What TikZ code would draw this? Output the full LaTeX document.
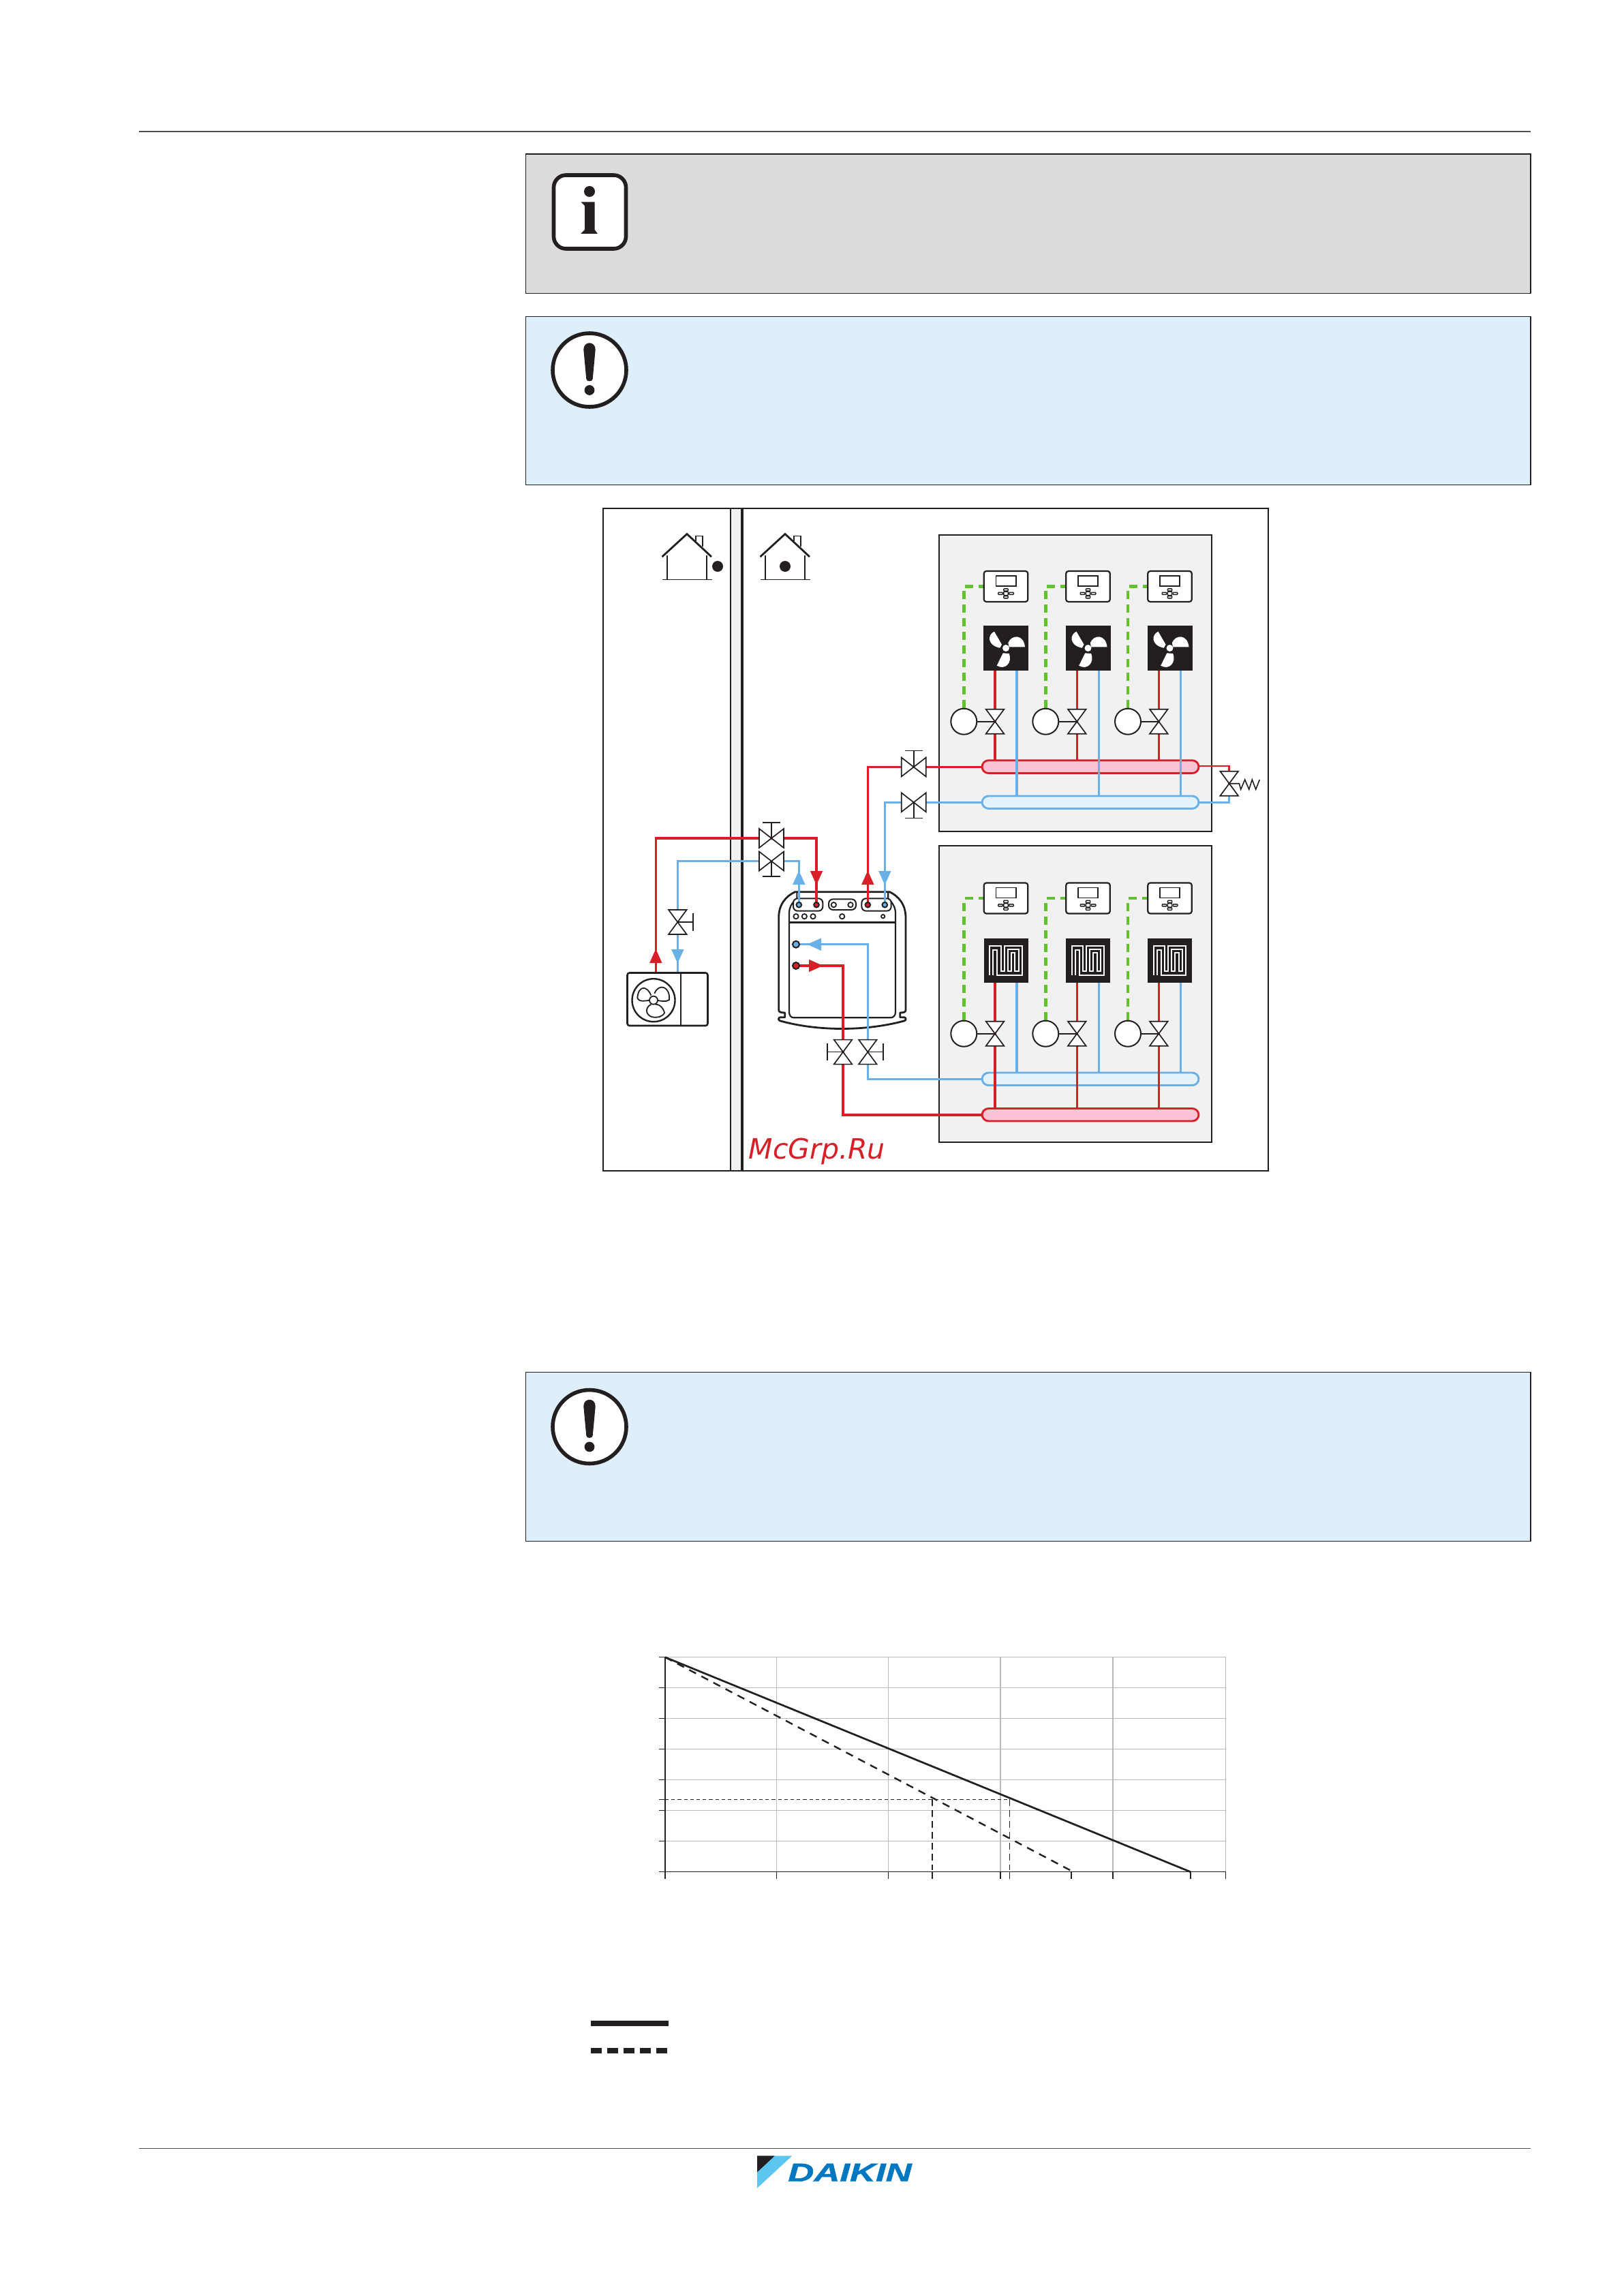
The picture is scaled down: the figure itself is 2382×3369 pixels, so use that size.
\documentclass[tikz,border=0pt]{standalone}
\usepackage{fontspec}
\setmainfont{DejaVu Sans}
\newfontfamily\logofont[FakeBold=1.2]{Liberation Sans Bold Italic}
\newfontfamily\stampfont{DejaVu Sans Oblique}
\definecolor{ink}{HTML}{231F20}
\definecolor{pred}{HTML}{D71F27}
\definecolor{pblue}{HTML}{68B0E6}
\definecolor{pgreen}{HTML}{62C130}
\definecolor{ppink}{HTML}{FBC3D4}
\definecolor{ppale}{HTML}{E4F2FC}
\definecolor{zonegrey}{HTML}{F1F1F1}
\definecolor{infogrey}{HTML}{DCDCDC}
\definecolor{noteblue}{HTML}{DEEEFA}
\definecolor{gridgrey}{HTML}{B9B9B9}
\definecolor{rulegrey}{HTML}{4D4D4D}
\definecolor{logoblue}{HTML}{0078C1}
\definecolor{logosky}{HTML}{5CC5F0}
\tikzset{
  redthick/.style={draw=pred,line width=.88pt},
  redthin/.style={draw=pred,line width=.7pt},
  bluethick/.style={draw=pblue,line width=.85pt},
  bluethin/.style={draw=pblue,line width=.7pt},
  signal/.style={draw=pgreen,line width=1.1pt,dash pattern=on 3pt off 2pt},
  zonebox/.style={draw=ink,fill=zonegrey,line width=.65pt},
  notebox/.style={draw=ink,line width=.4pt},
  symbol/.style={draw=ink,fill=white,line width=.42pt,line join=miter},
  thinline/.style={draw=ink,line width=.42pt},
  gridline/.style={draw=gridgrey,line width=.38pt},
  axisline/.style={draw=ink,line width=.38pt},
  vbow/.pic={
    \path[symbol] (-13.3,-18) -- (13.3,-18) -- (0,0) -- cycle;
    \path[symbol] (-13.3,18) -- (13.3,18) -- (0,0) -- cycle;
  },
  hbow/.pic={
    \path[symbol] (-18,-14) -- (-18,14) -- (0,0) -- cycle;
    \path[symbol] (18,-14) -- (18,14) -- (0,0) -- cycle;
  },
  ctrlunit/.pic={
    \path[draw=ink,fill=white,line width=.55pt,rounded corners=.9pt] (-32.3,-22.5) rectangle (32.3,22.5);
    \path[draw=ink,fill=white,line width=.4pt] (-14.7,-15.7) rectangle (14.7,-.7);
    \foreach \bx/\by/\bw/\bh in {-8/10.3/3.3/1.5,8/10.3/3.3/1.5,0/5/3.2/1.6,0/15.7/3.2/1.6,0/10.3/3.2/2.7}
      \path[draw=ink,fill=white,line width=.35pt,rounded corners=.2pt] (\bx-\bw,\by-\bh) rectangle (\bx+\bw,\by+\bh);
  },
  fanface/.pic={
    \fill[ink] (-33,-33) rectangle (33,33);
    \fill[white] (0,0) circle[radius=5];
    \fill[white] (-17,-24.3) .. controls (-27,-20) and (-28,-4) .. (-8.7,-.3) -- (-6,-5.3) -- cycle;
    \fill[white] (3.3,-7.7) .. controls (8,-20) and (26,-21) .. (28,-1.7) -- (4.7,-1.7) -- cycle;
    \fill[white] (4.7,8) .. controls (10,21) and (-1,33) .. (-13.3,25.7) -- (-4.3,7.3) -- cycle;
  },
  heatface/.pic={
    \fill[ink] (-32.5,-32.5) rectangle (32.5,32.5);
    \draw[white,line width=.5pt,line join=miter] (-18.8,21.2) -- (-18.8,-15.5) -- (-12.8,-15.5) -- (-12.8,21.2) -- (23.8,21.2) -- (23.8,-21.2) -- (-2.2,-21.2) -- (-2.2,15.2) -- (-7.5,15.2) -- (-7.5,-21.2) -- (-23.8,-21.2) -- (-23.8,21.2);
    \draw[white,line width=.5pt,line join=miter] (2.5,-16.2) -- (18.5,-16.2) -- (18.5,15.2) -- (13.2,15.2) -- (13.2,-11.2) -- (7.8,-11.2) -- (7.8,15.2) -- (2.5,15.2) -- cycle;
  },
  houseicon/.pic={
    \draw[ink,line width=.7pt,line join=miter] (-36.5,33.5) -- (0,0) -- (36,33.5);
    \draw[ink,line width=.45pt] (-36.5,67) -- (36.5,67);
    \draw[ink,line width=.55pt] (-29,31) -- (-29,67) (29,31) -- (29,67);
    \draw[ink,line width=.4pt] (12.7,10) -- (12.7,3) -- (23,3) -- (23,18);
  },
  exclaim/.pic={
    \path[draw=ink,fill=white,line width=1.4pt] (0,0) circle[radius=54];
    \fill[ink] (-8.7,-30) .. controls (-8.7,-43) and (8.7,-43) .. (8.7,-30) -- (4.7,13) .. controls (4.7,17.5) and (-4.7,17.5) .. (-4.7,13) -- cycle;
    \fill[ink] (0,29.5) circle[radius=7.4];
  },
}
\newcommand{\flowtip}[3]{\fill[#3,shift={#1},rotate=#2] (10.5,0) -- (-10,9.2) -- (-10,-9.2) -- cycle;}
\begin{document}
\begin{tikzpicture}[x=.25pt,y=-.25pt]
\path[use as bounding box] (0,0) rectangle (2382,3369);

% page rules
\coordinate (headL) at (204,193);
\coordinate (headR) at (2246,193);
\coordinate (footL) at (204,3152.5);
\coordinate (footR) at (2246,3152.5);
\draw[rulegrey,line width=.58pt] (headL) -- (headR);
\draw[rulegrey,line width=.45pt] (footL) -- (footR);

% note boxes
\path[notebox,fill=infogrey] (771.5,226) rectangle (2246,430.5);
\path[notebox,fill=noteblue] (771.5,464.5) rectangle (2246,711.5);
\path[notebox,fill=noteblue] (771.5,2013.5) rectangle (2246,2261.5);

% info icon
\path[draw=ink,fill=white,line width=1.4pt,rounded corners=4.5pt] (812.5,257) rectangle (918.5,365);
\fill[ink] (865,281) circle[radius=8];
\fill[ink] (852.5,296.5) -- (872.5,296.5) -- (872.5,337) -- (877,343) -- (852,343) -- (858,337) -- (858,302) -- cycle;
\pic at (865,543) {exclaim};
\pic at (865,2093.5) {exclaim};

% diagram frame and wall
\path[fill=zonegrey] (1072,746) rectangle (1089,1718);
\path[draw=ink,line width=.5pt] (885,746) rectangle (1861,1718);
\draw[ink,line width=.7pt] (1072,746) -- (1072,1718);
\draw[ink,line width=1.1pt] (1089,746) -- (1089,1718);

% houses
\pic at (1008,783.5) {houseicon};
\pic at (1152,783.5) {houseicon};
\fill[ink] (1053,831) circle[radius=8];
\fill[ink] (1152,831) circle[radius=8];

% zones
\path[zonebox] (1378,785) rectangle (1778,1220);
\path[zonebox] (1378,1241) rectangle (1778,1676);

% named points of the zones
\foreach \n/\cx in {1/1476,2/1596.5,3/1716.5}{
  \coordinate (ctA\n) at (\cx,860.5);
  \coordinate (faA\n) at (\cx,951);
  \coordinate (ctB\n) at (\cx,1318);
  \coordinate (faB\n) at (\cx,1409.5);
}
\foreach \n/\vx/\bx/\mx in {1/1460/1492/1414.3,2/1580.3/1612.3/1534.3,3/1700.3/1732.3/1655}{
  \coordinate (vaA\n) at (\vx,1058.7);
  \coordinate (moA\n) at (\mx,1058.7);
  \coordinate (vaB\n) at (\vx,1516.7);
  \coordinate (moB\n) at (\mx,1516.7);
  \coordinate (raA\n) at (\vx,984);
  \coordinate (blA\n) at (\bx,984);
  \coordinate (hrA\n) at (\vx,1116);
  \coordinate (hbA\n) at (\bx,1168);
  \coordinate (cbA\n) at (\mx,860.5);
  \coordinate (raB\n) at (\vx,1442);
  \coordinate (blB\n) at (\bx,1442);
  \coordinate (hbB\n) at (\bx,1574);
  \coordinate (hrB\n) at (\vx,1626.5);
  \coordinate (cbB\n) at (\mx,1318);
}

% signal wires
\foreach \z in {A,B}{
  \foreach \n in {1,2,3}{
    \draw[signal] (mo\z\n) -- (cb\z\n) -- (ct\z\n);
  }
}

% manifolds
\path[draw=pred,fill=ppink,line width=.72pt,rounded corners=2.4pt] (1441,1115.7) rectangle (1759,1134.6);
\path[draw=pblue,fill=ppale,line width=.72pt,rounded corners=2.4pt] (1441,1168) rectangle (1759,1186.5);
\path[draw=pblue,fill=ppale,line width=.72pt,rounded corners=2.4pt] (1441,1574) rectangle (1759,1592.5);
\path[draw=pred,fill=ppink,line width=.72pt,rounded corners=2.4pt] (1441,1626.5) rectangle (1759,1645);

% zone pipes
\draw[redthick] (raA1) -- (vaA1) -- (hrA1);
\draw[redthin] (raA2) -- (vaA2) -- (hrA2);
\draw[redthin] (raA3) -- (vaA3) -- (hrA3);
\draw[bluethick] (blA1) -- (hbA1);
\draw[bluethin] (blA2) -- (hbA2);
\draw[bluethin] (blA3) -- (hbA3);
\draw[bluethick] (blB1) -- (hbB1);
\draw[bluethin] (blB2) -- (hbB2);
\draw[bluethin] (blB3) -- (hbB3);
\draw[redthick] (raB1) -- (vaB1) -- (hrB1);
\draw[redthin] (raB2) -- (vaB2) -- (hrB2);
\draw[redthin] (raB3) -- (vaB3) -- (hrB3);

% terminals, controllers, valves, motors
\foreach \z/\face in {A/fanface,B/heatface}{
  \foreach \n in {1,2,3}{
    \pic at (fa\z\n) {\face};
    \pic at (ct\z\n) {ctrlunit};
    \draw[ink,line width=.4pt] (mo\z\n) -- (va\z\n);
    \path[symbol,line width=.5pt] (mo\z\n) circle[radius=19];
    \pic at (va\z\n) {vbow};
  }
}

% named points of the main circuit
\coordinate (odR) at (962.3,1427.5);
\coordinate (odB) at (994.3,1427.5);
\coordinate (crnR) at (962.3,1230);
\coordinate (crnB) at (994.3,1263.6);
\coordinate (vOutR) at (1132,1230);
\coordinate (vOutB) at (1132,1263.6);
\coordinate (vOd) at (994.3,1353);
\coordinate (pR1) at (1198,1327.7);
\coordinate (pB1) at (1172.3,1327.7);
\coordinate (pR2) at (1273.3,1327.7);
\coordinate (pB2) at (1298.3,1327.7);
\coordinate (crnR1) at (1198,1230);
\coordinate (crnB1) at (1172.3,1263.6);
\coordinate (vZoneR) at (1340.7,1125.5);
\coordinate (vZoneB) at (1340.7,1177.3);
\coordinate (crnR2) at (1273.3,1125.5);
\coordinate (crnB2) at (1298.3,1177.3);
\coordinate (mfR) at (1441,1125.5);
\coordinate (mfB) at (1441,1177.3);
\coordinate (pLoR) at (1168,1417);
\coordinate (pLoB) at (1168,1385.7);
\coordinate (crnLoR) at (1237,1417);
\coordinate (crnLoB) at (1273.3,1385.7);
\coordinate (vLoR) at (1237,1543.6);
\coordinate (vLoB) at (1273.3,1543.6);
\coordinate (crnFloorR) at (1237,1636);
\coordinate (crnFloorB) at (1273.3,1583.3);
\coordinate (mfFloorR) at (1441,1636);
\coordinate (mfFloorB) at (1441,1583.3);
\coordinate (mfEndR) at (1759,1124);
\coordinate (mfEndB) at (1759,1177.3);
\coordinate (crnByR) at (1803.7,1124);
\coordinate (crnByB) at (1803.7,1177.3);
\coordinate (vBy) at (1803.7,1149.7);

% indoor unit
\begin{scope}[shift={(1130,1290)},x=.08333pt,y=-.08333pt]
  \path[draw=ink,fill=white,line width=.7pt,line join=round]
    (38,575) -- (38,170) .. controls (38,110) and (70,75) .. (110,56) -- (526,56)
    .. controls (565,75) and (597,110) .. (597,170) -- (597,575)
    .. controls (597,585) and (590,588) .. (572,588) -- (572,608) -- (590,608)
    .. controls (600,610) and (600,622) .. (590,624)
    .. controls (420,670) and (210,670) .. (45,624)
    .. controls (35,622) and (35,610) .. (45,608) -- (65,608) -- (65,588)
    .. controls (45,588) and (38,585) .. (38,575) -- cycle;
  \draw[ink,line width=.55pt,line join=round]
    (118,56) -- (118,85) .. controls (95,105) and (84,125) .. (84,150) -- (84,585)
    .. controls (84,600) and (92,610) .. (105,610) -- (530,610)
    .. controls (543,610) and (552,600) .. (552,585) -- (552,150)
    .. controls (552,125) and (540,105) .. (520,85) -- (520,56);
  \draw[ink,line width=.6pt] (84,190) -- (552,190);
  \path[draw=ink,fill=white,line width=.5pt,rounded corners=1.6pt] (102,85) rectangle (232,140);
  \path[draw=ink,fill=white,line width=.5pt,rounded corners=1.6pt] (258,88) rectangle (378,135);
  \path[draw=ink,fill=white,line width=.5pt,rounded corners=1.6pt] (403,85) rectangle (533,140);
  \foreach \p in {(280,113),(354,113),(114,164),(151,164),(189,164),(317,164)}
    \path[draw=ink,fill=white,line width=.45pt] \p circle[radius=11];
  \path[draw=ink,fill=white,line width=.45pt] (497,164) circle[radius=8];
\end{scope}

% main pipes
\draw[redthick] (odR) -- (crnR) -- (vOutR) -- (crnR1) -- (pR1);
\draw[bluethick] (odB) -- (crnB) -- (vOutB) -- (crnB1) -- (pB1);
\draw[redthick] (pR2) -- (crnR2) -- (vZoneR) -- (mfR);
\draw[bluethick] (pB2) -- (crnB2) -- (vZoneB) -- (mfB);
\draw[redthick] (pLoR) -- (crnLoR) -- (vLoR) -- (crnFloorR) -- (mfFloorR);
\draw[bluethick] (pLoB) -- (crnLoB) -- (vLoB) -- (crnFloorB) -- (mfFloorB);
\draw[redthin] (mfEndR) -- (crnByR) -- (vBy);
\draw[bluethin] (mfEndB) -- (crnByB) -- (vBy);

% port dots
\path[draw=ink,fill=pblue,line width=.5pt] (pB1) circle[radius=3.8];
\path[draw=ink,fill=pred,line width=.5pt] (pR1) circle[radius=3.8];
\path[draw=ink,fill=pred,line width=.5pt] (pR2) circle[radius=3.8];
\path[draw=ink,fill=pblue,line width=.5pt] (pB2) circle[radius=3.8];
\path[draw=ink,fill=pblue,line width=.5pt] (pLoB) circle[radius=5];
\path[draw=ink,fill=pred,line width=.5pt] (pLoR) circle[radius=5];

% flow arrows
\flowtip{(1172.3,1288)}{90}{pblue}
\flowtip{(1198,1288)}{-90}{pred}
\flowtip{(1273.3,1288)}{90}{pred}
\flowtip{(1298.3,1288)}{-90}{pblue}
\flowtip{(1195,1385.7)}{180}{pblue}
\flowtip{(1197,1417)}{0}{pred}
\flowtip{(962.3,1403)}{90}{pred}
\flowtip{(994.3,1403)}{-90}{pblue}

% shut-off valves with stems
\coordinate (stOut1) at (1132,1206.8);
\coordinate (stOut2) at (1132,1286);
\coordinate (stOd) at (1017.3,1353);
\coordinate (stZ1) at (1340.7,1101.6);
\coordinate (stZ2) at (1340.7,1200.5);
\coordinate (stLo1) at (1214,1543.6);
\coordinate (stLo2) at (1296,1543.6);
\foreach \v/\s/\o in {vOutR/stOut1/h,vOutB/stOut2/h,vZoneR/stZ1/h,vZoneB/stZ2/h}{
  \draw[thinline] (\v) -- (\s);
  \draw[thinline] ([xshift=-3.2pt]\s) -- ([xshift=3.2pt]\s);
  \pic at (\v) {hbow};
}
\foreach \v/\s in {vOd/stOd,vLoR/stLo1,vLoB/stLo2}{
  \draw[thinline] (\v) -- (\s);
  \draw[thinline] ([yshift=-3.2pt]\s) -- ([yshift=3.2pt]\s);
  \pic at (\v) {vbow};
}

% bypass valve and spring
\pic at (vBy) {vbow};
\coordinate (sprEnd) at (1848.3,1144);
\draw[ink,line width=.4pt,line join=miter] (vBy) -- (1818.3,1149.7) -- (1820.7,1158.3) -- (1826.7,1144) -- (1832.7,1158.3) -- (1837.3,1144) -- (1842.7,1158.3) -- (sprEnd);

% outdoor unit
\path[draw=ink,fill=white,line width=.65pt,rounded corners=.8pt] (920.5,1427.5) rectangle (1038.5,1505);
\draw[ink,line width=.4pt] (998.7,1427.5) -- (998.7,1505);
\begin{scope}[shift={(959,1467.7)}]
  \path[draw=ink,fill=white,line width=.6pt] (0,0) circle[radius=31.5];
  \draw[ink,line width=.45pt,fill=white] (-3.7,-7) .. controls (-8.7,-21) and (-22,-23) .. (-23.7,-3.8) .. controls (-22,3) and (-12,1) .. (-6,0);
  \draw[ink,line width=.45pt,fill=white] (1.3,-10) .. controls (8,-26) and (24.7,-20) .. (23,-.6) .. controls (18,3) and (10,1) .. (5.3,0);
  \draw[ink,line width=.45pt,fill=white] (3,6) .. controls (13,6) and (16.3,18.6) .. (16,18.6) .. controls (12,25) and (6,25) .. (1.3,25) .. controls (-10,25) and (-15,12) .. (-3.7,6);
  \path[draw=ink,fill=white,line width=.45pt] (0,0) circle[radius=6];
\end{scope}

% stamp
\node[text=pred,inner sep=0pt,anchor=base west] (stamp) at (1098,1700) {\stampfont\fontsize{10.25pt}{12pt}\selectfont McGrp.Ru};

% chart grid
\foreach \gx in {1139.5,1303.7,1467.9,1632.9,1798.5}{
  \coordinate (gt) at (\gx,2431.7);
  \coordinate (gb) at (\gx,2756.7);
  \draw[gridline] (gt) -- (gb);
}
\foreach \gy in {2431.7,2476.7,2521.3,2566.3,2611.3,2656.3,2701.3}{
  \coordinate (gl) at (967.3,\gy);
  \coordinate (gr) at (1798.5,\gy);
  \draw[gridline] (976,\gy) -- (gr);
  \draw[axisline] (gl) -- (976,\gy);
}
\coordinate (origin) at (976,2746.7);
\coordinate (ytop) at (976,2431.7);
\coordinate (xend) at (1798.5,2746.7);
\coordinate (solidEnd) at (1747,2746.7);
\coordinate (dashEnd) at (1571.8,2745);
\coordinate (markY) at (976,2640.3);
\coordinate (markA) at (1368,2640.3);
\coordinate (markB) at (1481.7,2640.3);
\coordinate (footA) at (1368,2744);
\coordinate (footB) at (1481.7,2744);
\draw[axisline] (967.3,2640.3) -- (markY);
\draw[axisline] (967.3,2746.7) -- (xend);
\draw[axisline] (ytop) -- (976,2756.7);
\foreach \tx in {1139.5,1303.7,1368,1467.9,1481.7,1571.8,1632.9,1747,1798.5}
  \draw[axisline] (\tx,2746.7) -- (\tx,2756.7);
\draw[ink,line width=.32pt,dash pattern=on 1.3pt off 1pt] (markY) -- (markB);
\draw[ink,line width=.3pt,dash pattern=on 2.5pt off 1.5pt] (markA) -- (footA);
\draw[ink,line width=.3pt,dash pattern=on 2.5pt off 1.5pt] (markB) -- (footB);
\draw[ink,line width=.68pt] (ytop) -- (solidEnd);
\draw[ink,line width=.6pt,dash pattern=on 2.8pt off 2.2pt] (ytop) -- (dashEnd);

% legend
\coordinate (legA) at (867,2969);
\coordinate (legB) at (981,2969);
\coordinate (legC) at (867,3009);
\coordinate (legD) at (979,3009);
\draw[ink,line width=2pt] (legA) -- (legB);
\draw[ink,line width=2pt,dash pattern=on 4pt off 2pt] (legC) -- (legD);

% logo
\fill[logosky] (1111,3163.3) -- (1162.3,3163.3) -- (1111,3210.7) -- cycle;
\fill[ink] (1111,3163.3) -- (1136.7,3163.3) -- (1111,3187.3) -- cycle;
\node[text=logoblue,inner sep=0pt,anchor=base,xscale=1.4,transform shape] (logo) at (1247,3200.7) {\logofont\fontsize{9.4pt}{11pt}\selectfont DAIKIN};
\end{tikzpicture}
\end{document}
